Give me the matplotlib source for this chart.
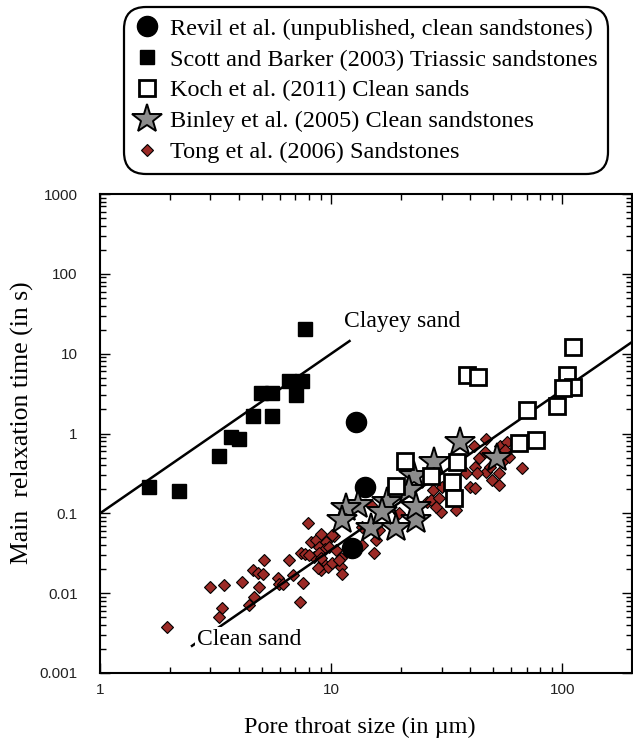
import matplotlib
matplotlib.use('Agg')
import matplotlib.pyplot as plt
import numpy as np

# Revil et al. (unpublished) - clean sandstones
revil_d = [12.8, 14.0, 12.3]
revil_tau = [1.38, 0.215, 0.037]

# Scott and Barker (2003) - Triassic sandstones
scott_d = [1.63, 2.19, 3.26, 3.67, 4.01, 4.60, 5.53, 4.98, 5.55, 6.55, 7.45, 7.04, 7.70]
scott_tau = [0.211, 0.19, 0.526, 0.90, 0.86, 1.64, 1.64, 3.18, 3.18, 4.54, 4.54, 3.05, 20.3]

# Koch et al. (2011) - clean sands
koch_d = [38.8, 43.0, 110.8, 104.7, 111.5, 101.0, 94.5, 70.2, 77.0, 65.1,
          35.0, 20.8, 19.0, 26.9, 33.3, 33.9]
koch_tau = [5.35, 5.14, 12.2, 5.4, 3.85, 3.74, 2.2, 1.96, 0.84, 0.77,
            0.44, 0.45, 0.22, 0.29, 0.25, 0.154]

# Binley et al. (2005) - clean sandstones
binley_d = [36.0, 27.8, 22.8, 21.7, 17.5, 13.0, 11.6, 11.1, 14.8, 19.0, 23.2, 16.6, 52.1, 23.2]
binley_tau = [0.79, 0.44, 0.292, 0.195, 0.139, 0.127, 0.115, 0.082, 0.0647, 0.0647,
              0.082, 0.104, 0.488, 0.121]

# Tong et al. (2006) - sandstones
tong_d = [1.94, 3.00, 3.43, 3.38, 3.26, 4.11, 4.58, 4.81, 5.09, 5.14,
          4.85, 4.62, 4.43, 5.87, 5.93, 6.17, 6.55, 6.86, 7.55, 7.30,
          7.91, 7.40, 7.70, 8.45, 8.17, 8.59, 9.03, 9.49, 8.88, 9.39,
          8.88, 10.3, 9.17, 9.03, 9.64, 8.73, 8.04, 9.03, 9.80, 10.5,
          10.1, 11.0, 11.0, 11.1, 10.8, 10.1, 14.8, 13.6, 15.3, 13.6,
          15.6, 16.1, 17.8, 19.6, 22.8, 26.0, 27.5, 30.2, 29.7, 34.5,
          26.9, 29.2, 28.3, 46.7, 41.3, 43.4, 46.4, 53.9, 57.5, 56.6,
          58.5, 54.8, 42.0, 46.7, 42.7, 53.0, 49.6, 53.0, 66.8, 40.0,
          38.1, 48.8, 42.0]
tong_tau = [0.00372, 0.0118, 0.0127, 0.00643, 0.0051, 0.0139, 0.0194, 0.0180, 0.0173, 0.0264,
            0.0118, 0.0090, 0.00714, 0.0156, 0.0132, 0.0132, 0.0264, 0.0168, 0.0135, 0.00778,
            0.076, 0.0314, 0.0308, 0.0285, 0.0432, 0.0461, 0.0548, 0.0439, 0.038, 0.0353,
            0.0314, 0.0522, 0.0236, 0.0194, 0.0214, 0.0204, 0.0299, 0.0272, 0.038, 0.0346,
            0.0236, 0.0272, 0.0214, 0.0172, 0.0259, 0.0533, 0.127, 0.040, 0.0314, 0.0678,
            0.0461, 0.0616, 0.121, 0.0997, 0.095, 0.139, 0.195, 0.215, 0.104, 0.110,
            0.146, 0.154, 0.121, 0.843, 0.695, 0.488, 0.590, 0.701, 0.787, 0.619,
            0.511, 0.442, 0.383, 0.331, 0.316, 0.316, 0.261, 0.226, 0.372, 0.215,
            0.316, 0.383, 0.205]

# trend lines tau = c * d^2
clayey_coef = 0.1
clayey_d = np.array([1.0, 12.0])
clean_coef = 3.5e-4
clean_d = np.array([2.5, 200.0])

xticks = [1, 10, 100]
xtick_labels = ['1', '10', '100']
yticks = [0.001, 0.01, 0.1, 1, 10, 100, 1000]
ytick_labels = ['0.001', '0.01', '0.1', '1', '10', '100', '1000']

plt.rcParams['font.family'] = 'Liberation Serif'

W, H = 633, 740
fig = plt.figure(figsize=(W / 100, H / 100), dpi=100)
ax = fig.add_axes([100 / W, 1 - 673 / H, 532 / W, 479 / H])
ax.set_xscale('log')
ax.set_yscale('log')
ax.set_xlim(1, 200)
ax.set_ylim(0.001, 1000)

# lines
ax.plot(clayey_d, clayey_coef * clayey_d ** 2, color='k', lw=1.8, zorder=3)
ax.plot(clean_d, clean_coef * clean_d ** 2, color='k', lw=1.8, zorder=3)

# data
h_tong, = ax.plot(tong_d, tong_tau, 'D', ls='none', ms=6.5, mfc='#9b2a26', mec='k', mew=0.8, zorder=2)
h_scott, = ax.plot(scott_d, scott_tau, 's', ls='none', ms=10.5, mfc='k', mec='k', zorder=4)
h_revil, = ax.plot(revil_d, revil_tau, 'o', ls='none', ms=14.5, mfc='k', mec='k', zorder=4)
h_binley, = ax.plot(binley_d, binley_tau, '*', ls='none', ms=22, mfc='#8c8c8c', mec='k', mew=1.4, zorder=5)
h_koch, = ax.plot(koch_d, koch_tau, 's', ls='none', ms=12, mfc='white', mec='k', mew=2, zorder=6)

ax.text(11.4, 25.6, 'Clayey sand', fontsize=17, ha='left', va='center', zorder=7)
ax.text(2.62, 0.00265, 'Clean sand', fontsize=17, ha='left', va='center', zorder=7,
        bbox=dict(facecolor='white', edgecolor='none', pad=1))

# axes styling
for s in ax.spines.values():
    s.set_linewidth(1.5)
ax.tick_params(which='both', direction='in', top=True, right=True, width=1)
ax.tick_params(which='major', length=7, pad=16)
ax.tick_params(axis='x', which='major', pad=7)
ax.tick_params(which='minor', length=4)
ax.set_xticks(xticks)
ax.set_xticklabels(xtick_labels, fontfamily='Liberation Sans', fontsize=11, color='#222222')
ax.set_yticks(yticks)
ax.set_yticklabels(ytick_labels, fontfamily='Liberation Sans', fontsize=11, color='#222222')

fig.text(22 / W, 1 - 423 / H, 'Main  relaxation time (in s)', rotation=90,
         ha='center', va='center', fontsize=18.5)
fig.text(360 / W, 1 - 727 / H, 'Pore throat size (in \u00b5m)', ha='center', va='center', fontsize=17.5)

handles = [h_revil, h_scott, h_koch, h_binley, h_tong]
labels = ['Revil et al. (unpublished, clean sandstones)',
          'Scott and Barker (2003) Triassic sandstones',
          'Koch et al. (2011) Clean sands',
          'Binley et al. (2005) Clean sandstones',
          'Tong et al. (2006) Sandstones']
leg = fig.legend(handles, labels, loc='upper center', bbox_to_anchor=(366 / W, 1 - 7 / H),
                 fontsize=17.5, frameon=True, fancybox=True, framealpha=1, edgecolor='k',
                 handletextpad=0.45, labelspacing=0.36, borderpad=0.45, handlelength=1.0,
                 borderaxespad=0)
leg.get_frame().set_linewidth(1.6)
leg.get_frame().set_boxstyle('round,pad=0,rounding_size=0.9')

fig.savefig('out.png', dpi=100)
